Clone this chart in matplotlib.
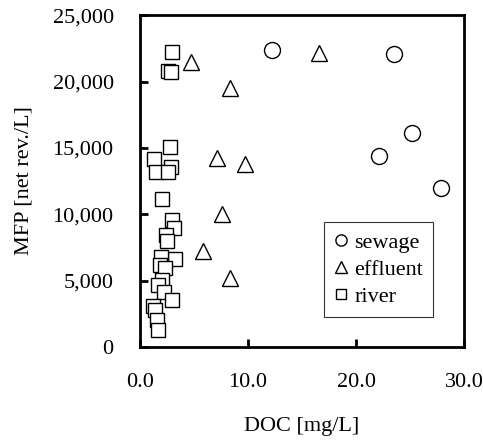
import numpy as np
import matplotlib
matplotlib.use("Agg")
import matplotlib.pyplot as plt
from matplotlib.ticker import FuncFormatter

plt.rcParams['font.family'] = ['Liberation Serif', 'DejaVu Serif']

# sewage
sewage_doc = [12.2, 23.5, 25.2, 22.1, 27.9]
sewage_mfp = [22350, 22050, 16100, 14400, 12000]
# effluent
effluent_doc = [4.7, 8.3, 7.1, 9.7, 7.6, 5.8, 8.3, 16.6]
effluent_mfp = [21500, 19500, 14250, 13800, 10000, 7250, 5200, 22150]
# river
river_doc = [3.0, 2.6, 2.85, 2.8, 1.3, 2.85, 1.45, 2.6, 2.0, 3.0, 3.1,
             2.4, 2.45, 3.25, 1.9, 1.85, 2.3, 2.0, 1.7, 2.2, 2.95, 1.2,
             1.4, 1.55, 1.7]
river_mfp = [22200, 20800, 20700, 15100, 14150, 13550, 13150, 13200, 11150,
             9550, 8950, 8450, 7950, 6600, 6800, 6150, 5950, 5050, 4650, 4100,
             3550, 3050, 2800, 2050, 1300]

fig = plt.figure(figsize=(4.83, 4.47), dpi=100)
ax = fig.add_axes([0.29, 0.224, 0.671, 0.742])

ax.plot(sewage_doc, sewage_mfp, 'o', ms=11.5, mfc='white', mec='black', mew=1.0, label='sewage')
ax.plot(effluent_doc, effluent_mfp, '^', ms=12, mfc='white', mec='black', mew=1.0, label='effluent')
ax.plot(river_doc, river_mfp, 's', ms=10.5, mfc='white', mec='black', mew=1.0, label='river')

ax.set_xlim(0, 30)
ax.set_ylim(0, 25000)
ax.set_xticks([0, 10, 20, 30])
ax.set_yticks(np.arange(0, 25001, 5000))
ax.xaxis.set_major_formatter(FuncFormatter(lambda v, p: f"{v:.1f}"))
ax.yaxis.set_major_formatter(FuncFormatter(lambda v, p: f"{int(v):,}"))
ax.tick_params(direction='in', length=6, width=2, labelsize=16, pad=19)
for s in ax.spines.values():
    s.set_linewidth(2)

ax.set_xlabel('DOC [mg/L]', fontsize=16, labelpad=18)
ax.set_ylabel('MFP [net rev./L]', fontsize=16, labelpad=14)

leg = ax.legend(loc='lower right', bbox_to_anchor=(0.904, 0.09), borderaxespad=0,
                fontsize=16, frameon=True, fancybox=False, markerscale=0.7,
                handlelength=0.6, handletextpad=0.3, borderpad=0.45, labelspacing=0.3)
leg.get_frame().set_edgecolor('black')
leg.get_frame().set_linewidth(0.8)

fig.savefig('out.png', dpi=100)
